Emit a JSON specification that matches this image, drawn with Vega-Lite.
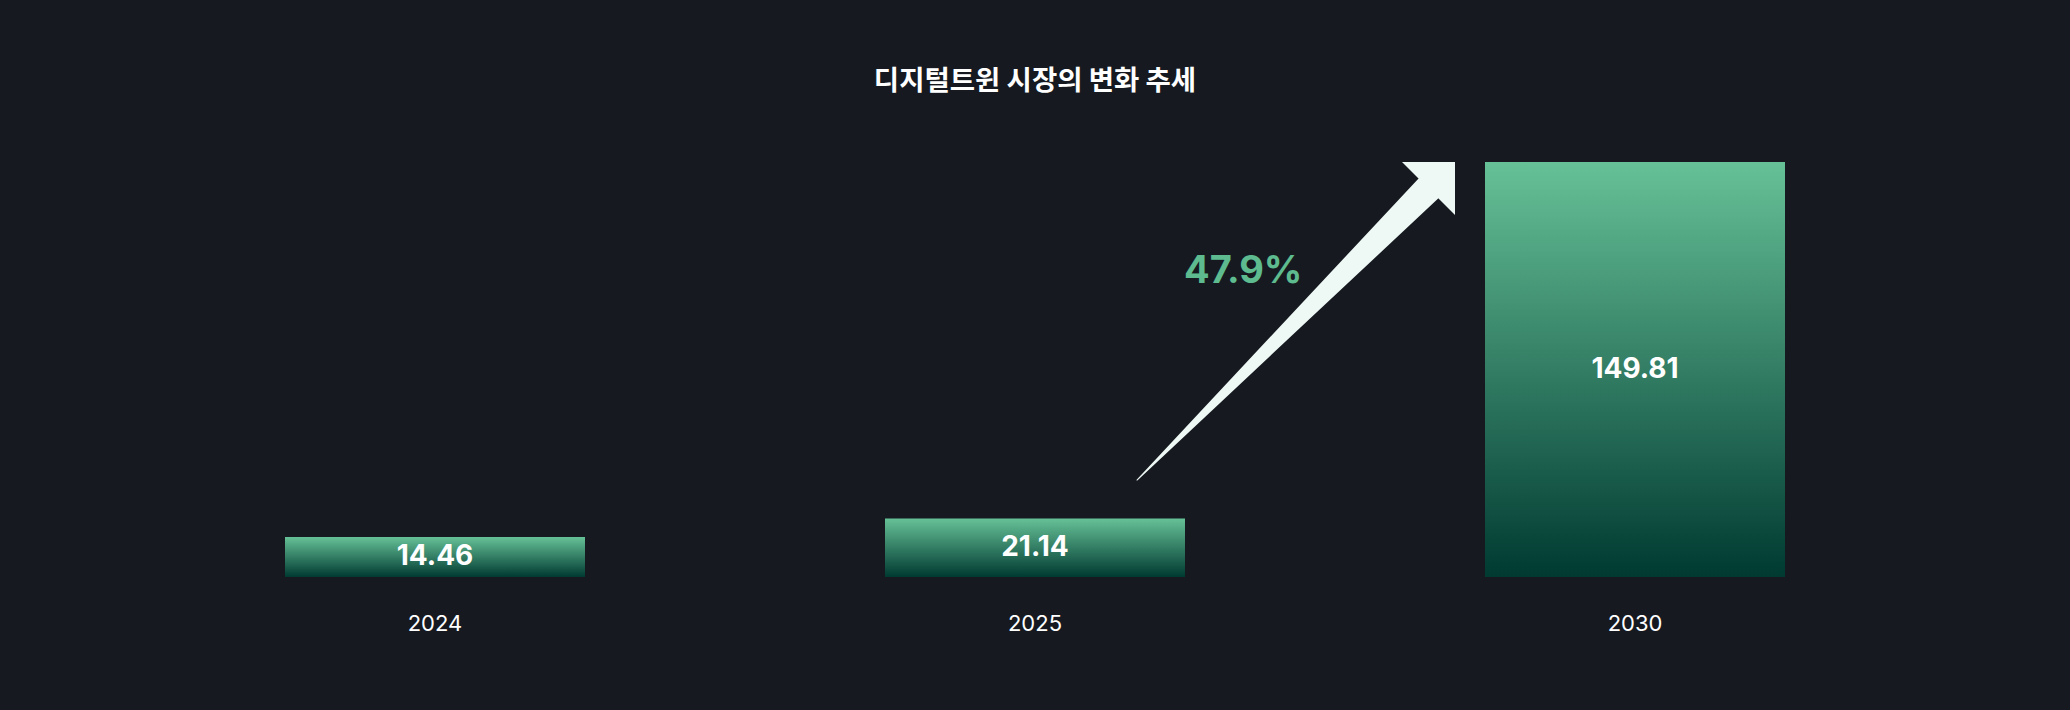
{
  "$schema": "https://vega.github.io/schema/vega-lite/v6.json",
  "width": 1800,
  "height": 415,
  "autosize": {"type": "none"},
  "padding": {"left": 135, "right": 135, "top": 162, "bottom": 133},
  "background": "#161a20",
  "config": {"view": {"stroke": null}, "font": "Inter"},
  "title": {
    "text": "디지털트윈 시장의 변화 추세",
    "font": "Noto Sans CJK KR",
    "fontSize": 27.5,
    "fontWeight": "bold",
    "color": "#ffffff",
    "anchor": "middle",
    "offset": 67
  },
  "datasets": {
    "bars": [
      {"year": "2024", "value": 14.46},
      {"year": "2025", "value": 21.14},
      {"year": "2030", "value": 149.81}
    ],
    "shaft": [
      {"u": 1.67, "v": 35.0},
      {"u": 2.155, "v": 140.1}
    ],
    "head": [{"u": 2.2, "v": 149.81}],
    "growth": [{"u": 1.847, "v": 106.1, "text": "47.9%"}]
  },
  "layer": [
    {
      "data": {"name": "bars"},
      "mark": {
        "type": "bar",
        "color": {
          "gradient": "linear",
          "x1": 0, "y1": 0, "x2": 0, "y2": 1,
          "stops": [
            {"offset": 0, "color": "#66c197"},
            {"offset": 1, "color": "#003a31"}
          ]
        }
      },
      "encoding": {
        "x": {
          "field": "year", "type": "nominal",
          "scale": {"paddingInner": 0.5, "paddingOuter": 0.25},
          "axis": {
            "title": null, "domain": false, "ticks": false, "tickSize": 0, "grid": false,
            "labelAngle": 0, "labelFontSize": 22, "labelColor": "#ffffff",
            "labelPadding": 46, "labelBaseline": "middle", "labelFont": "Inter"
          }
        },
        "y": {
          "field": "value", "type": "quantitative",
          "scale": {"domain": [0, 149.81], "nice": false},
          "axis": null
        }
      }
    },
    {
      "data": {"name": "bars"},
      "mark": {"type": "text", "fontSize": 28, "fontWeight": "bold", "color": "#ffffff", "baseline": "middle", "font": "Inter"},
      "encoding": {
        "x": {
          "field": "year", "type": "nominal",
          "scale": {"paddingInner": 0.5, "paddingOuter": 0.25},
          "axis": null
        },
        "y": {
          "field": "value", "type": "quantitative",
          "scale": {"domain": [0, 299.62], "nice": false},
          "axis": null
        },
        "text": {"field": "value", "type": "quantitative", "format": ".2f"}
      }
    },
    {
      "data": {"name": "shaft"},
      "mark": {"type": "trail", "color": "#eef8f4"},
      "encoding": {
        "x": {"field": "u", "type": "quantitative", "scale": {"domain": [0, 3], "nice": false}, "axis": null},
        "y": {"field": "v", "type": "quantitative", "scale": {"domain": [0, 149.81], "nice": false}, "axis": null},
        "size": {"field": "v", "type": "quantitative", "scale": {"domain": [35, 140.1], "range": [0, 28]}, "legend": null},
        "order": {"field": "u"}
      }
    },
    {
      "data": {"name": "head"},
      "mark": {"type": "point", "filled": true, "opacity": 1, "color": "#eef8f4", "strokeWidth": 0, "size": 11236, "shape": "M 0 0 L -1 0 L 0 1 Z"},
      "encoding": {
        "x": {"field": "u", "type": "quantitative", "scale": {"domain": [0, 3], "nice": false}, "axis": null},
        "y": {"field": "v", "type": "quantitative", "scale": {"domain": [0, 149.81], "nice": false}, "axis": null}
      }
    },
    {
      "data": {"name": "growth"},
      "mark": {"type": "text", "fontSize": 38, "fontWeight": "bold", "color": "#5dbb8f", "align": "center", "baseline": "alphabetic", "font": "Inter"},
      "encoding": {
        "x": {"field": "u", "type": "quantitative", "scale": {"domain": [0, 3], "nice": false}, "axis": null},
        "y": {"field": "v", "type": "quantitative", "scale": {"domain": [0, 149.81], "nice": false}, "axis": null},
        "text": {"field": "text"}
      }
    }
  ],
  "resolve": {"scale": {"x": "independent", "y": "independent", "size": "independent"}}
}
